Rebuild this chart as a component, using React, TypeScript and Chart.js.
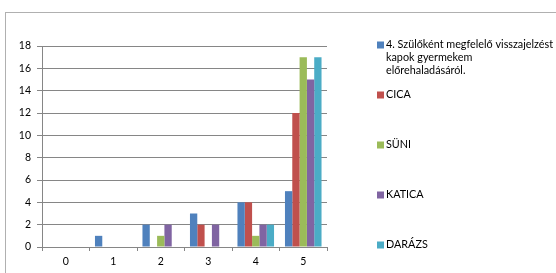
import React, { useEffect, useRef } from "react";
import { Chart, registerables } from "chart.js";

Chart.register(...registerables);

const categories = ["0", "1", "2", "3", "4", "5"];
const seriesLabels = [
  "4. Szülőként megfelelő visszajelzést kapok gyermekem előrehaladásáról.",
  "CICA",
  "SÜNI",
  "KATICA",
  "DARÁZS",
];
const legendLines = [
  ["4. Szülőként megfelelő visszajelzést", "kapok gyermekem", "előrehaladásáról."],
  ["CICA"],
  ["SÜNI"],
  ["KATICA"],
  ["DARÁZS"],
];
const question4 = [0, 1, 2, 3, 4, 5];
const cica = [0, 0, 0, 2, 4, 12];
const suni = [0, 0, 1, 0, 1, 17];
const katica = [0, 0, 2, 2, 2, 15];
const darazs = [0, 0, 0, 0, 2, 17];
const colors = ["#4F81BD", "#C0504D", "#9BBB59", "#8064A2", "#4BACC6"];

const FONT = "Lato, 'Open Sans', sans-serif";

const legendPlugin = {
  id: "customLegend",
  afterDraw(chart: any) {
    const ctx = chart.ctx;
    ctx.save();
    ctx.font = `10.8px ${FONT}`;
    ctx.textBaseline = "middle";
    const x0 = 377;
    const textX = 386;
    let y = 45;
    chart.data.datasets.forEach((ds: any, i: number) => {
      ctx.fillStyle = ds.backgroundColor;
      ctx.fillRect(x0, y - 3.5, 7, 7);
      ctx.fillStyle = "#000";
      legendLines[i].forEach((ln, k) => ctx.fillText(ln, textX, y + k * 13));
      y += 50;
    });
    ctx.restore();
  },
};

export default function App() {
  const ref = useRef<HTMLCanvasElement>(null);
  useEffect(() => {
    const data = [question4, cica, suni, katica, darazs];
    const chart = new Chart(ref.current!, {
      type: "bar",
      data: {
        labels: categories,
        datasets: data.map((d, i) => ({
          label: seriesLabels[i],
          data: d,
          backgroundColor: colors[i],
          borderWidth: 0,
          barPercentage: 1,
          categoryPercentage: 0.77,
        })),
      },
      options: {
        animation: false,
        responsive: false,
        maintainAspectRatio: false,
        layout: { padding: { left: 0, top: 46, right: 229, bottom: 0 } },
        plugins: { legend: { display: false }, tooltip: { enabled: false } },
        scales: {
          x: {
            grid: {
              offset: true,
              drawOnChartArea: false,
              drawTicks: true,
              tickLength: 4,
              color: "#868686",
            },
            border: { color: "#868686" },
            ticks: { color: "#000", font: { size: 10.5, family: FONT }, padding: 4 },
            afterFit: (s: any) => {
              s.height = 26;
            },
          },
          y: {
            min: 0,
            max: 18,
            ticks: { stepSize: 2, color: "#000", font: { size: 10.5, family: FONT }, padding: 6 },
            grid: { color: "#868686", tickLength: 5 },
            border: { color: "#868686" },
            afterFit: (s: any) => {
              s.width = 42;
            },
          },
        },
      },
      plugins: [legendPlugin],
    });
    return () => chart.destroy();
  }, []);
  return (
    <div style={{ position: "fixed", left: 0, top: 0, width: 556, height: 273, background: "#fff", overflow: "hidden" }}>
      <div
        style={{
          position: "absolute",
          left: 5,
          top: 12,
          width: 700,
          height: 400,
          borderLeft: "1px solid #b0b0b0",
          borderTop: "1px solid #b0b0b0",
        }}
      />
      <canvas ref={ref} width={556} height={273} style={{ position: "absolute", left: 0, top: 0, width: 556, height: 273 }} />
    </div>
  );
}
